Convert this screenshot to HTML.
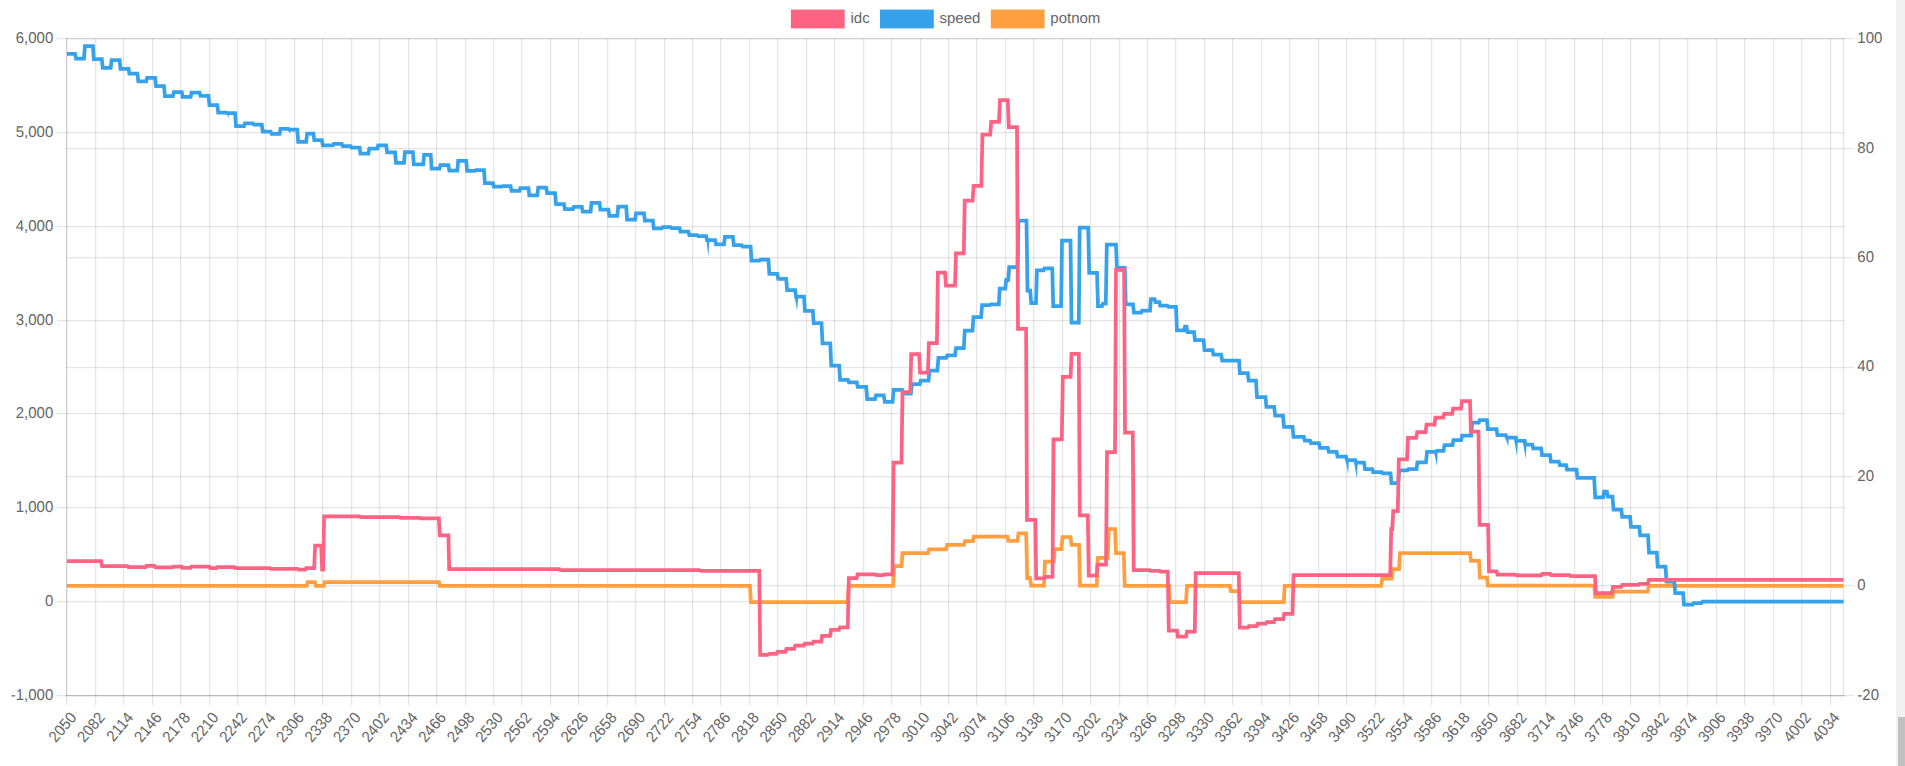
<!DOCTYPE html>
<html><head><meta charset="utf-8"><title>chart</title>
<style>
html,body{margin:0;padding:0;background:#fff;overflow:hidden}
body{width:1905px;height:766px;position:relative;font-family:"Liberation Sans",sans-serif}
svg{position:absolute;left:0;top:0;display:block}
text{font-family:"Liberation Sans",sans-serif;font-size:15px;fill:#666;text-rendering:geometricPrecision}
.g line{stroke:rgba(0,0,0,0.1);stroke-width:1.25}
.s{fill:none;stroke-width:3.75;stroke-linejoin:miter;stroke-miterlimit:10;stroke-linecap:butt}
#sb{position:absolute;left:1896px;top:0;width:9px;height:766px;background:#f1f1f1}
#th{position:absolute;left:1898px;top:717px;width:7px;height:49px;background:#c1c1c1}
</style></head><body>
<svg width="1905" height="766" viewBox="0 0 1905 766">

<g class="g">
<line x1="66.625" y1="38.75" x2="66.625" y2="705.0"/>
<line x1="95.625" y1="38.75" x2="95.625" y2="705.0"/>
<line x1="123.625" y1="38.75" x2="123.625" y2="705.0"/>
<line x1="152.625" y1="38.75" x2="152.625" y2="705.0"/>
<line x1="180.625" y1="38.75" x2="180.625" y2="705.0"/>
<line x1="209.625" y1="38.75" x2="209.625" y2="705.0"/>
<line x1="237.625" y1="38.75" x2="237.625" y2="705.0"/>
<line x1="265.625" y1="38.75" x2="265.625" y2="705.0"/>
<line x1="294.625" y1="38.75" x2="294.625" y2="705.0"/>
<line x1="322.625" y1="38.75" x2="322.625" y2="705.0"/>
<line x1="351.625" y1="38.75" x2="351.625" y2="705.0"/>
<line x1="379.625" y1="38.75" x2="379.625" y2="705.0"/>
<line x1="408.625" y1="38.75" x2="408.625" y2="705.0"/>
<line x1="436.625" y1="38.75" x2="436.625" y2="705.0"/>
<line x1="465.625" y1="38.75" x2="465.625" y2="705.0"/>
<line x1="493.625" y1="38.75" x2="493.625" y2="705.0"/>
<line x1="521.625" y1="38.75" x2="521.625" y2="705.0"/>
<line x1="550.625" y1="38.75" x2="550.625" y2="705.0"/>
<line x1="578.625" y1="38.75" x2="578.625" y2="705.0"/>
<line x1="607.625" y1="38.75" x2="607.625" y2="705.0"/>
<line x1="635.625" y1="38.75" x2="635.625" y2="705.0"/>
<line x1="664.625" y1="38.75" x2="664.625" y2="705.0"/>
<line x1="692.625" y1="38.75" x2="692.625" y2="705.0"/>
<line x1="720.625" y1="38.75" x2="720.625" y2="705.0"/>
<line x1="749.625" y1="38.75" x2="749.625" y2="705.0"/>
<line x1="777.625" y1="38.75" x2="777.625" y2="705.0"/>
<line x1="806.625" y1="38.75" x2="806.625" y2="705.0"/>
<line x1="834.625" y1="38.75" x2="834.625" y2="705.0"/>
<line x1="863.625" y1="38.75" x2="863.625" y2="705.0"/>
<line x1="891.625" y1="38.75" x2="891.625" y2="705.0"/>
<line x1="920.625" y1="38.75" x2="920.625" y2="705.0"/>
<line x1="948.625" y1="38.75" x2="948.625" y2="705.0"/>
<line x1="976.625" y1="38.75" x2="976.625" y2="705.0"/>
<line x1="1005.625" y1="38.75" x2="1005.625" y2="705.0"/>
<line x1="1033.625" y1="38.75" x2="1033.625" y2="705.0"/>
<line x1="1062.625" y1="38.75" x2="1062.625" y2="705.0"/>
<line x1="1090.625" y1="38.75" x2="1090.625" y2="705.0"/>
<line x1="1119.625" y1="38.75" x2="1119.625" y2="705.0"/>
<line x1="1147.625" y1="38.75" x2="1147.625" y2="705.0"/>
<line x1="1175.625" y1="38.75" x2="1175.625" y2="705.0"/>
<line x1="1204.625" y1="38.75" x2="1204.625" y2="705.0"/>
<line x1="1232.625" y1="38.75" x2="1232.625" y2="705.0"/>
<line x1="1261.625" y1="38.75" x2="1261.625" y2="705.0"/>
<line x1="1289.625" y1="38.75" x2="1289.625" y2="705.0"/>
<line x1="1318.625" y1="38.75" x2="1318.625" y2="705.0"/>
<line x1="1346.625" y1="38.75" x2="1346.625" y2="705.0"/>
<line x1="1375.625" y1="38.75" x2="1375.625" y2="705.0"/>
<line x1="1403.625" y1="38.75" x2="1403.625" y2="705.0"/>
<line x1="1431.625" y1="38.75" x2="1431.625" y2="705.0"/>
<line x1="1460.625" y1="38.75" x2="1460.625" y2="705.0"/>
<line x1="1488.625" y1="38.75" x2="1488.625" y2="705.0"/>
<line x1="1517.625" y1="38.75" x2="1517.625" y2="705.0"/>
<line x1="1545.625" y1="38.75" x2="1545.625" y2="705.0"/>
<line x1="1574.625" y1="38.75" x2="1574.625" y2="705.0"/>
<line x1="1602.625" y1="38.75" x2="1602.625" y2="705.0"/>
<line x1="1630.625" y1="38.75" x2="1630.625" y2="705.0"/>
<line x1="1659.625" y1="38.75" x2="1659.625" y2="705.0"/>
<line x1="1687.625" y1="38.75" x2="1687.625" y2="705.0"/>
<line x1="1716.625" y1="38.75" x2="1716.625" y2="705.0"/>
<line x1="1744.625" y1="38.75" x2="1744.625" y2="705.0"/>
<line x1="1773.625" y1="38.75" x2="1773.625" y2="705.0"/>
<line x1="1801.625" y1="38.75" x2="1801.625" y2="705.0"/>
<line x1="1830.625" y1="38.75" x2="1830.625" y2="705.0"/>
<line x1="57.0" y1="38.625" x2="1844.25" y2="38.625"/>
<line x1="57.0" y1="132.625" x2="1844.25" y2="132.625"/>
<line x1="57.0" y1="226.625" x2="1844.25" y2="226.625"/>
<line x1="57.0" y1="320.625" x2="1844.25" y2="320.625"/>
<line x1="57.0" y1="413.625" x2="1844.25" y2="413.625"/>
<line x1="57.0" y1="507.625" x2="1844.25" y2="507.625"/>
<line x1="57.0" y1="601.625" x2="1844.25" y2="601.625"/>
<line x1="57.0" y1="695.625" x2="1844.25" y2="695.625"/>
<line x1="66.00" y1="38.625" x2="1853.7" y2="38.625"/>
<line x1="66.00" y1="148.625" x2="1853.7" y2="148.625"/>
<line x1="66.00" y1="257.625" x2="1853.7" y2="257.625"/>
<line x1="66.00" y1="367.625" x2="1853.7" y2="367.625"/>
<line x1="66.00" y1="476.625" x2="1853.7" y2="476.625"/>
<line x1="66.00" y1="585.625" x2="1853.7" y2="585.625"/>
<line x1="66.00" y1="695.625" x2="1853.7" y2="695.625"/>
<line x1="66.625" y1="38.0" x2="66.625" y2="696.25"/>
<line x1="1843.625" y1="38.0" x2="1843.625" y2="696.25"/>
<line x1="66.0" y1="695.625" x2="1844.25" y2="695.625"/>
</g>
<path class="s" stroke="rgb(255,159,64)" d="M67.0,585.8L306.7,585.8L307.6,582.1L314.9,582.1L315.8,585.8L323.7,585.8L324.6,582.1L438.9,582.1L439.8,585.8L749.9,585.8L750.9,602.2L847.8,602.2L848.8,585.8L893.2,585.8L894.2,566.1L901.5,566.1L902.5,553.1L928.0,553.1L929.0,549.3L946.1,549.3L947.1,544.8L963.9,544.8L964.9,541.0L972.8,541.0L973.7,536.7L1007.4,536.7L1008.4,540.9L1017.5,540.9L1018.5,533.3L1026.2,533.3L1027.2,578.1L1030.1,578.1L1031.0,585.6L1044.0,585.6L1044.9,561.7L1053.8,561.7L1054.7,549.2L1061.5,549.2L1062.5,537.0L1070.5,537.0L1071.5,544.8L1079.1,544.8L1080.0,585.6L1096.8,585.6L1097.7,557.8L1107.8,557.8L1108.8,529.0L1115.1,529.0L1116.0,553.0L1123.8,553.0L1124.7,585.8L1169.0,585.8L1169.9,602.1L1186.0,602.1L1187.0,585.8L1229.8,585.8L1230.8,591.0L1238.8,591.0L1239.8,602.1L1283.8,602.1L1284.7,585.8L1381.2,585.8L1382.2,578.6L1391.8,578.6L1392.7,569.2L1399.0,569.2L1400.0,553.1L1470.0,553.1L1471.0,560.9L1479.0,560.9L1480.0,577.7L1487.0,577.7L1487.9,585.5L1594.2,585.5L1595.2,596.8L1612.5,596.8L1613.5,591.5L1647.8,591.5L1648.8,585.8L1843.5,585.8"/>
<path class="s" stroke="rgb(54,162,235)" d="M67.0,53.9L75.1,53.9L76.0,58.7L84.0,58.7L84.9,46.1L92.9,46.1L93.8,59.0L101.8,59.0L102.7,67.8L110.7,67.8L111.6,60.2L119.6,60.2L120.5,68.8L128.5,68.8L129.4,73.7L137.4,73.7L138.3,81.3L146.2,81.3L147.1,77.9L155.1,77.9L156.0,86.1L164.0,86.1L164.9,96.1L172.9,96.1L173.8,92.0L181.8,92.0L182.7,96.8L190.7,96.8L191.6,92.7L199.6,92.7L200.5,95.9L208.5,95.9L209.4,105.0L217.3,105.0L218.2,112.5L226.2,112.5L227.1,113.2L235.1,113.2L236.0,126.0L244.0,126.0L244.9,123.4L252.9,123.4L253.8,124.6L261.8,124.6L262.7,131.6L270.7,131.6L271.6,133.8L279.6,133.8L280.5,128.8L288.4,128.8L289.3,129.7L297.3,129.7L298.2,141.9L306.2,141.9L307.1,133.5L313.4,133.5L314.3,140.1L321.9,140.1L322.8,145.4L332.9,145.4L333.8,143.9L341.8,143.9L342.7,146.1L350.7,146.1L351.6,147.7L359.6,147.7L360.5,153.6L368.4,153.6L369.3,148.6L377.3,148.6L378.2,145.4L386.2,145.4L387.1,152.4L395.1,152.4L396.0,162.8L404.0,162.8L404.9,152.0L412.9,152.0L413.8,164.3L423.2,164.3L424.1,154.9L430.7,154.9L431.6,168.7L439.5,168.7L440.4,165.1L448.4,165.1L449.3,170.6L457.3,170.6L458.2,160.8L466.2,160.8L467.1,170.9L475.1,170.9L476.0,170.1L484.0,170.1L484.9,183.2L492.9,183.2L493.8,186.7L501.8,186.7L502.7,186.1L510.6,186.1L511.5,190.9L519.5,190.9L520.4,188.0L528.4,188.0L529.3,195.3L537.3,195.3L538.2,187.7L546.2,187.7L547.1,193.0L555.1,193.0L556.0,204.1L564.0,204.1L564.9,209.0L572.9,209.0L573.8,206.9L581.8,206.9L582.7,211.6L590.6,211.6L591.5,202.8L599.5,202.8L600.4,209.6L608.4,209.6L609.3,215.9L617.3,215.9L618.2,206.6L626.2,206.6L627.1,219.5L635.1,219.5L636.0,213.4L644.0,213.4L644.9,220.6L652.9,220.6L653.8,228.4L661.7,228.4L662.6,227.2L670.6,227.2L671.5,228.0L679.5,228.0L680.4,231.6L688.4,231.6L689.3,235.1L697.3,235.1L698.2,236.0L706.2,236.0L707.1,240.1L715.1,240.1L716.0,244.4L724.0,244.4L724.9,236.9L732.9,236.9L733.8,245.2L741.7,245.2L742.6,246.7L750.6,246.7L751.5,260.5L759.5,260.5L760.4,259.5L768.4,259.5L769.3,273.8L777.3,273.8L778.2,278.8L786.2,278.8L787.1,290.0L795.1,290.0L796.0,296.5L804.0,296.5L804.9,310.8L812.8,310.8L813.7,323.0L821.5,323.0L822.5,343.3L830.3,343.3L831.2,365.6L839.1,365.6L840.1,379.8L847.9,379.8L848.9,382.4L856.8,382.4L857.7,386.8L866.2,386.8L867.2,399.1L875.0,399.1L876.0,395.3L883.8,395.3L884.8,401.9L892.6,401.9L893.6,389.9L902.1,389.9L903.1,393.7L910.9,393.7L911.9,384.2L919.8,384.2L920.7,380.7L928.5,380.7L929.5,370.6L937.4,370.6L938.4,357.8L946.2,357.8L947.2,355.3L955.0,355.3L956.0,348.0L963.8,348.0L964.8,330.7L972.5,330.7L973.5,317.0L981.1,317.0L982.1,305.0L989.9,305.0L990.9,304.3L998.8,304.3L999.7,288.6L1005.3,288.6L1006.2,279.8L1008.2,279.8L1009.2,267.2L1017.5,267.2L1018.5,220.7L1026.5,220.7L1027.5,290.5L1030.2,290.5L1031.2,303.1L1036.0,303.1L1036.9,270.3L1043.5,270.3L1044.4,268.4L1052.3,268.4L1053.2,306.2L1061.1,306.2L1062.0,240.7L1070.5,240.7L1071.5,322.6L1078.8,322.6L1079.7,227.6L1088.2,227.6L1089.2,272.8L1097.0,272.8L1098.0,306.2L1102.0,306.2L1103.0,303.7L1105.8,303.7L1106.8,244.5L1116.0,244.5L1116.9,267.8L1124.8,267.8L1125.7,304.3L1133.0,304.3L1133.9,312.5L1141.1,312.5L1142.0,310.6L1150.0,310.6L1150.9,299.0L1154.5,299.0L1155.5,302.0L1159.3,302.0L1160.2,305.6L1167.5,305.6L1168.5,306.9L1176.0,306.9L1176.9,330.3L1184.0,330.3L1185.0,326.5L1186.5,326.5L1187.5,332.2L1194.1,332.2L1195.0,340.1L1203.6,340.1L1204.5,350.2L1212.5,350.2L1213.4,354.5L1221.2,354.5L1222.2,360.6L1239.0,360.6L1239.9,373.2L1247.8,373.2L1248.7,380.5L1256.0,380.5L1257.0,397.1L1265.5,397.1L1266.4,406.9L1274.2,406.9L1275.2,415.6L1283.0,415.6L1284.0,426.9L1292.5,426.9L1293.5,436.8L1303.8,436.8L1304.8,440.6L1310.1,440.6L1311.0,443.1L1319.0,443.1L1319.9,447.9L1327.8,447.9L1328.8,451.9L1336.6,451.9L1337.5,456.7L1346.0,456.7L1347.0,460.0L1355.3,460.0L1356.2,462.5L1364.0,462.5L1365.0,469.0L1372.3,469.0L1373.2,472.1L1381.8,472.1L1382.7,473.3L1390.5,473.3L1391.5,483.1L1398.2,483.1L1399.2,470.3L1407.5,470.3L1408.5,469.0L1416.5,469.0L1417.4,462.4L1426.0,462.4L1427.0,451.8L1436.1,451.8L1437.0,450.8L1443.5,450.8L1444.5,445.0L1452.5,445.0L1453.4,440.1L1461.2,440.1L1462.2,435.7L1471.2,435.7L1472.2,422.7L1478.8,422.7L1479.7,420.2L1487.0,420.2L1487.9,429.0L1496.5,429.0L1497.4,435.0L1505.8,435.0L1506.8,437.5L1516.0,437.5L1516.9,440.9L1524.8,440.9L1525.7,444.7L1532.3,444.7L1533.2,448.3L1541.1,448.3L1542.0,455.1L1550.0,455.1L1550.9,461.7L1558.8,461.7L1559.8,465.2L1566.1,465.2L1567.0,469.5L1576.5,469.5L1577.5,477.8L1594.2,477.8L1595.2,497.3L1603.1,497.3L1604.0,491.6L1606.8,491.6L1607.7,496.6L1612.5,496.6L1613.5,509.7L1621.3,509.7L1622.2,516.9L1630.1,516.9L1631.0,526.9L1639.3,526.9L1640.2,535.4L1648.0,535.4L1649.0,552.5L1656.8,552.5L1657.7,566.6L1665.5,566.6L1666.5,581.7L1674.3,581.7L1675.2,593.1L1683.1,593.1L1684.0,604.7L1692.6,604.7L1693.5,603.1L1701.5,603.1L1702.4,601.6L1843.5,601.6"/>
<polygon fill="rgb(54,162,235)" points="705.8,236 709.3,240 708.4,256.8"/>
<polygon fill="rgb(54,162,235)" points="793.9,292.8 798.3,296.5 797.1,310.4"/>
<polygon fill="rgb(54,162,235)" points="1345,458 1348.8,460.5 1348.2,473.7"/>
<polygon fill="rgb(54,162,235)" points="1353.9,461.7 1357.6,463 1357,478.7"/>
<polygon fill="rgb(54,162,235)" points="1433.9,451.7 1437.6,451.7 1437,466.1"/>
<polygon fill="rgb(54,162,235)" points="1505,436.5 1508.8,437.8 1508.2,446.6"/>
<polygon fill="rgb(54,162,235)" points="1513.8,437.8 1517.6,440.9 1517,456"/>
<polygon fill="rgb(54,162,235)" points="1522.7,441.6 1526.5,444.7 1525.8,458.6"/>
<polygon fill="rgb(54,162,235)" points="226.9,113.3 228.9,113.3 228.6,118.5"/>
<polygon fill="rgb(54,162,235)" points="288,129.7 290.5,129.7 290.3,133.8"/>
<path class="s" stroke="rgb(255,99,132)" d="M67.0,561.1L101.1,561.1L102.0,566.1L127.5,566.1L128.4,567.2L145.6,567.2L146.4,565.9L154.6,565.9L155.4,567.4L172.6,567.4L173.4,566.5L181.6,566.5L182.4,567.8L190.6,567.8L191.4,566.5L209.2,566.5L210.1,568.0L216.6,568.0L217.4,567.0L234.6,567.0L235.4,568.0L269.6,568.0L270.4,568.8L297.6,568.8L298.4,569.6L305.4,569.6L306.2,568.0L314.2,568.0L315.1,545.6L321.2,545.6L322.1,569.5L323.2,569.5L324.1,516.4L359.6,516.4L360.4,517.0L399.6,517.0L400.4,517.8L419.6,517.8L420.4,518.3L438.9,518.3L439.8,535.3L448.4,535.3L449.2,569.0L559.5,569.0L560.5,570.2L699.5,570.2L700.5,570.8L759.3,570.8L760.2,654.9L767.8,654.9L768.8,653.8L776.6,653.8L777.6,651.9L785.4,651.9L786.4,648.8L794.2,648.8L795.2,645.6L803.8,645.6L804.7,643.7L812.5,643.7L813.5,641.6L821.3,641.6L822.2,635.8L830.1,635.8L831.1,629.9L838.9,629.9L839.9,627.4L847.8,627.4L848.8,578.2L856.6,578.2L857.6,574.4L875.5,574.4L876.5,575.0L883.5,575.0L884.5,574.3L892.5,574.3L893.5,462.7L901.5,462.7L902.5,392.2L910.3,392.2L911.2,354.0L919.1,354.0L920.1,372.7L927.9,372.7L928.9,343.0L936.9,343.0L937.9,272.6L945.0,272.6L946.0,285.5L955.0,285.5L956.0,253.3L963.8,253.3L964.7,200.6L972.6,200.6L973.6,185.9L981.4,185.9L982.4,134.6L990.2,134.6L991.2,121.9L999.0,121.9L1000.0,100.2L1007.8,100.2L1008.8,127.2L1017.0,127.2L1018.0,328.8L1026.1,328.8L1027.0,519.8L1035.3,519.8L1036.2,578.3L1044.1,578.3L1045.0,576.9L1052.5,576.9L1053.5,439.4L1061.8,439.4L1062.8,376.9L1070.6,376.9L1071.5,353.8L1078.8,353.8L1079.8,515.3L1087.8,515.3L1088.8,575.5L1096.6,575.5L1097.5,564.7L1106.0,564.7L1107.0,452.0L1115.0,452.0L1116.0,269.8L1124.1,269.8L1125.0,432.7L1132.8,432.7L1133.7,570.0L1149.5,570.0L1150.5,570.8L1159.5,570.8L1160.5,571.5L1167.8,571.5L1168.8,630.5L1177.0,630.5L1177.9,636.6L1186.0,636.6L1187.0,631.7L1194.8,631.7L1195.7,573.0L1238.8,573.0L1239.8,627.6L1248.0,627.6L1248.9,626.0L1256.8,626.0L1257.7,623.7L1265.8,623.7L1266.8,622.0L1274.0,622.0L1275.0,619.0L1283.3,619.0L1284.2,613.8L1292.5,613.8L1293.5,575.2L1390.2,575.2L1391.2,529.1L1392.3,529.1L1393.2,511.1L1397.8,511.1L1398.8,459.3L1407.0,459.3L1408.0,437.9L1416.2,437.9L1417.2,432.1L1425.6,432.1L1426.5,424.7L1434.5,424.7L1435.4,417.7L1443.2,417.7L1444.2,413.8L1452.1,413.8L1453.0,408.7L1461.0,408.7L1461.9,401.1L1470.0,401.1L1470.9,431.5L1478.5,431.5L1479.5,524.9L1488.1,524.9L1489.0,571.3L1496.5,571.3L1497.4,574.5L1515.5,574.5L1516.5,575.4L1541.3,575.4L1542.2,573.8L1550.1,573.8L1551.0,575.1L1569.5,575.1L1570.5,576.0L1595.0,576.0L1595.9,593.2L1612.0,593.2L1612.9,586.9L1621.3,586.9L1622.2,584.8L1638.5,584.8L1639.5,583.8L1647.8,583.8L1648.8,579.8L1843.5,579.8"/>
<text transform="translate(53.3,43.0) scale(1,1.04)" text-anchor="end">6,000</text>
<text transform="translate(53.3,136.9) scale(1,1.04)" text-anchor="end">5,000</text>
<text transform="translate(53.3,230.7) scale(1,1.04)" text-anchor="end">4,000</text>
<text transform="translate(53.3,324.5) scale(1,1.04)" text-anchor="end">3,000</text>
<text transform="translate(53.3,418.4) scale(1,1.04)" text-anchor="end">2,000</text>
<text transform="translate(53.3,512.2) scale(1,1.04)" text-anchor="end">1,000</text>
<text transform="translate(53.3,606.0) scale(1,1.04)" text-anchor="end">0</text>
<text transform="translate(53.3,699.8) scale(1,1.04)" text-anchor="end">-1,000</text>
<text transform="translate(1857.3,43.0) scale(1,1.04)">100</text>
<text transform="translate(1857.3,152.5) scale(1,1.04)">80</text>
<text transform="translate(1857.3,262.0) scale(1,1.04)">60</text>
<text transform="translate(1857.3,371.4) scale(1,1.04)">40</text>
<text transform="translate(1857.3,480.9) scale(1,1.04)">20</text>
<text transform="translate(1857.3,590.4) scale(1,1.04)">0</text>
<text transform="translate(1857.3,699.8) scale(1,1.04)">-20</text>
<text transform="translate(66.25,708.5) rotate(-50) translate(0,14.4) scale(1,1.04)" text-anchor="end">2050</text>
<text transform="translate(94.69,708.5) rotate(-50) translate(0,14.4) scale(1,1.04)" text-anchor="end">2082</text>
<text transform="translate(123.12,708.5) rotate(-50) translate(0,14.4) scale(1,1.04)" text-anchor="end">2114</text>
<text transform="translate(151.56,708.5) rotate(-50) translate(0,14.4) scale(1,1.04)" text-anchor="end">2146</text>
<text transform="translate(180.00,708.5) rotate(-50) translate(0,14.4) scale(1,1.04)" text-anchor="end">2178</text>
<text transform="translate(208.44,708.5) rotate(-50) translate(0,14.4) scale(1,1.04)" text-anchor="end">2210</text>
<text transform="translate(236.87,708.5) rotate(-50) translate(0,14.4) scale(1,1.04)" text-anchor="end">2242</text>
<text transform="translate(265.31,708.5) rotate(-50) translate(0,14.4) scale(1,1.04)" text-anchor="end">2274</text>
<text transform="translate(293.75,708.5) rotate(-50) translate(0,14.4) scale(1,1.04)" text-anchor="end">2306</text>
<text transform="translate(322.19,708.5) rotate(-50) translate(0,14.4) scale(1,1.04)" text-anchor="end">2338</text>
<text transform="translate(350.62,708.5) rotate(-50) translate(0,14.4) scale(1,1.04)" text-anchor="end">2370</text>
<text transform="translate(379.06,708.5) rotate(-50) translate(0,14.4) scale(1,1.04)" text-anchor="end">2402</text>
<text transform="translate(407.50,708.5) rotate(-50) translate(0,14.4) scale(1,1.04)" text-anchor="end">2434</text>
<text transform="translate(435.93,708.5) rotate(-50) translate(0,14.4) scale(1,1.04)" text-anchor="end">2466</text>
<text transform="translate(464.37,708.5) rotate(-50) translate(0,14.4) scale(1,1.04)" text-anchor="end">2498</text>
<text transform="translate(492.81,708.5) rotate(-50) translate(0,14.4) scale(1,1.04)" text-anchor="end">2530</text>
<text transform="translate(521.25,708.5) rotate(-50) translate(0,14.4) scale(1,1.04)" text-anchor="end">2562</text>
<text transform="translate(549.68,708.5) rotate(-50) translate(0,14.4) scale(1,1.04)" text-anchor="end">2594</text>
<text transform="translate(578.12,708.5) rotate(-50) translate(0,14.4) scale(1,1.04)" text-anchor="end">2626</text>
<text transform="translate(606.56,708.5) rotate(-50) translate(0,14.4) scale(1,1.04)" text-anchor="end">2658</text>
<text transform="translate(635.00,708.5) rotate(-50) translate(0,14.4) scale(1,1.04)" text-anchor="end">2690</text>
<text transform="translate(663.43,708.5) rotate(-50) translate(0,14.4) scale(1,1.04)" text-anchor="end">2722</text>
<text transform="translate(691.87,708.5) rotate(-50) translate(0,14.4) scale(1,1.04)" text-anchor="end">2754</text>
<text transform="translate(720.31,708.5) rotate(-50) translate(0,14.4) scale(1,1.04)" text-anchor="end">2786</text>
<text transform="translate(748.74,708.5) rotate(-50) translate(0,14.4) scale(1,1.04)" text-anchor="end">2818</text>
<text transform="translate(777.18,708.5) rotate(-50) translate(0,14.4) scale(1,1.04)" text-anchor="end">2850</text>
<text transform="translate(805.62,708.5) rotate(-50) translate(0,14.4) scale(1,1.04)" text-anchor="end">2882</text>
<text transform="translate(834.06,708.5) rotate(-50) translate(0,14.4) scale(1,1.04)" text-anchor="end">2914</text>
<text transform="translate(862.49,708.5) rotate(-50) translate(0,14.4) scale(1,1.04)" text-anchor="end">2946</text>
<text transform="translate(890.93,708.5) rotate(-50) translate(0,14.4) scale(1,1.04)" text-anchor="end">2978</text>
<text transform="translate(919.37,708.5) rotate(-50) translate(0,14.4) scale(1,1.04)" text-anchor="end">3010</text>
<text transform="translate(947.81,708.5) rotate(-50) translate(0,14.4) scale(1,1.04)" text-anchor="end">3042</text>
<text transform="translate(976.24,708.5) rotate(-50) translate(0,14.4) scale(1,1.04)" text-anchor="end">3074</text>
<text transform="translate(1004.68,708.5) rotate(-50) translate(0,14.4) scale(1,1.04)" text-anchor="end">3106</text>
<text transform="translate(1033.12,708.5) rotate(-50) translate(0,14.4) scale(1,1.04)" text-anchor="end">3138</text>
<text transform="translate(1061.55,708.5) rotate(-50) translate(0,14.4) scale(1,1.04)" text-anchor="end">3170</text>
<text transform="translate(1089.99,708.5) rotate(-50) translate(0,14.4) scale(1,1.04)" text-anchor="end">3202</text>
<text transform="translate(1118.43,708.5) rotate(-50) translate(0,14.4) scale(1,1.04)" text-anchor="end">3234</text>
<text transform="translate(1146.87,708.5) rotate(-50) translate(0,14.4) scale(1,1.04)" text-anchor="end">3266</text>
<text transform="translate(1175.30,708.5) rotate(-50) translate(0,14.4) scale(1,1.04)" text-anchor="end">3298</text>
<text transform="translate(1203.74,708.5) rotate(-50) translate(0,14.4) scale(1,1.04)" text-anchor="end">3330</text>
<text transform="translate(1232.18,708.5) rotate(-50) translate(0,14.4) scale(1,1.04)" text-anchor="end">3362</text>
<text transform="translate(1260.61,708.5) rotate(-50) translate(0,14.4) scale(1,1.04)" text-anchor="end">3394</text>
<text transform="translate(1289.05,708.5) rotate(-50) translate(0,14.4) scale(1,1.04)" text-anchor="end">3426</text>
<text transform="translate(1317.49,708.5) rotate(-50) translate(0,14.4) scale(1,1.04)" text-anchor="end">3458</text>
<text transform="translate(1345.93,708.5) rotate(-50) translate(0,14.4) scale(1,1.04)" text-anchor="end">3490</text>
<text transform="translate(1374.36,708.5) rotate(-50) translate(0,14.4) scale(1,1.04)" text-anchor="end">3522</text>
<text transform="translate(1402.80,708.5) rotate(-50) translate(0,14.4) scale(1,1.04)" text-anchor="end">3554</text>
<text transform="translate(1431.24,708.5) rotate(-50) translate(0,14.4) scale(1,1.04)" text-anchor="end">3586</text>
<text transform="translate(1459.68,708.5) rotate(-50) translate(0,14.4) scale(1,1.04)" text-anchor="end">3618</text>
<text transform="translate(1488.11,708.5) rotate(-50) translate(0,14.4) scale(1,1.04)" text-anchor="end">3650</text>
<text transform="translate(1516.55,708.5) rotate(-50) translate(0,14.4) scale(1,1.04)" text-anchor="end">3682</text>
<text transform="translate(1544.99,708.5) rotate(-50) translate(0,14.4) scale(1,1.04)" text-anchor="end">3714</text>
<text transform="translate(1573.42,708.5) rotate(-50) translate(0,14.4) scale(1,1.04)" text-anchor="end">3746</text>
<text transform="translate(1601.86,708.5) rotate(-50) translate(0,14.4) scale(1,1.04)" text-anchor="end">3778</text>
<text transform="translate(1630.30,708.5) rotate(-50) translate(0,14.4) scale(1,1.04)" text-anchor="end">3810</text>
<text transform="translate(1658.74,708.5) rotate(-50) translate(0,14.4) scale(1,1.04)" text-anchor="end">3842</text>
<text transform="translate(1687.17,708.5) rotate(-50) translate(0,14.4) scale(1,1.04)" text-anchor="end">3874</text>
<text transform="translate(1715.61,708.5) rotate(-50) translate(0,14.4) scale(1,1.04)" text-anchor="end">3906</text>
<text transform="translate(1744.05,708.5) rotate(-50) translate(0,14.4) scale(1,1.04)" text-anchor="end">3938</text>
<text transform="translate(1772.49,708.5) rotate(-50) translate(0,14.4) scale(1,1.04)" text-anchor="end">3970</text>
<text transform="translate(1800.92,708.5) rotate(-50) translate(0,14.4) scale(1,1.04)" text-anchor="end">4002</text>
<text transform="translate(1829.36,708.5) rotate(-50) translate(0,14.4) scale(1,1.04)" text-anchor="end">4034</text>
<rect x="790.9" y="9.6" width="53.8" height="18.8" fill="rgb(255,99,132)"/><text x="850.5" y="23.2">idc</text>
<rect x="880.0" y="9.6" width="53.8" height="18.8" fill="rgb(54,162,235)"/><text x="939.5" y="23.2">speed</text>
<rect x="990.8" y="9.6" width="53.8" height="18.8" fill="rgb(255,159,64)"/><text x="1050.3" y="23.2">potnom</text>
</svg><div id="sb"></div><div id="th"></div></body></html>
